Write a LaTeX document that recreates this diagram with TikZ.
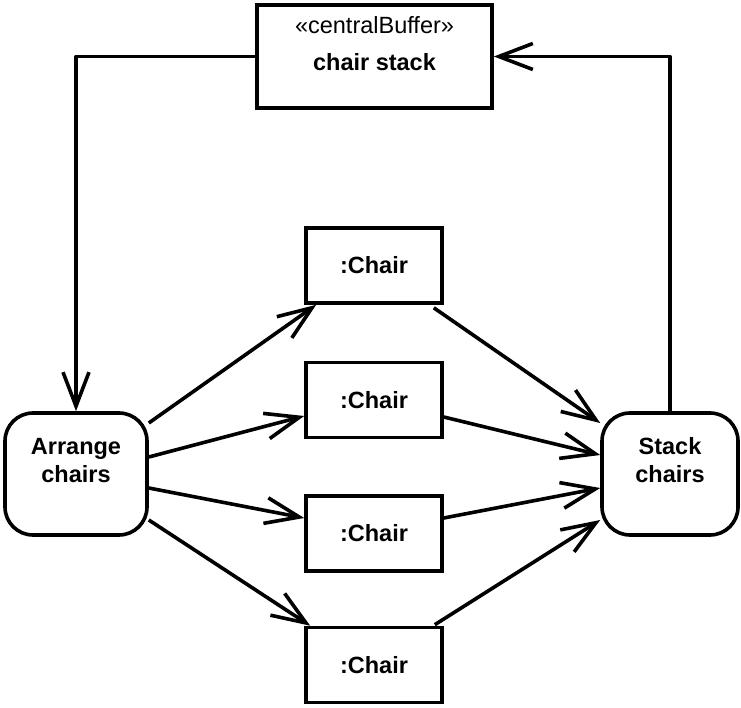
\documentclass[tikz,border=0pt]{standalone}
\usepackage{fontspec}
\setmainfont{Liberation Sans}
\usetikzlibrary{arrows.meta,calc}
\begin{document}
\begin{tikzpicture}[x=1pt,y=-1pt,
  box/.style={draw,line width=3.6pt,inner sep=0pt,fill=white},
  obj/.style={box,minimum width=136pt,minimum height=75pt,font=\fontsize{23.5}{28}\selectfont\bfseries},
  act/.style={box,rounded corners=28pt,minimum height=122pt},
  lbl/.style={font=\fontsize{23.5}{28}\selectfont\bfseries,align=center,inner sep=0pt},
  flow/.style={line width=3.6pt,-{Straight Barb[length=34pt,width=26pt]},line join=round}]
\useasboundingbox (0,0) rectangle (741,708);
% central buffer
\node[box,minimum width=235pt,minimum height=103pt] (cb) at (374.5,56.5) {};
\node[lbl,font=\fontsize{23.5}{28}\selectfont] (cbst) at (374.5,25) {«centralBuffer»};
\node[lbl] (cbname) at (374.5,62) {chair stack};
% actions
\node[act,minimum width=142pt] (arr) at (76,474) {};
\node[lbl] (arrt) at (76,461) {Arrange\\chairs};
\node[act,minimum width=136pt] (stk) at (670,474) {};
\node[lbl] (stkt) at (670,460) {Stack\\chairs};
% objects
\node[obj] (c1) at (374,265.5) {:Chair};
\node[obj] (c2) at (374,400) {:Chair};
\node[obj] (c3) at (374,533.5) {:Chair};
\node[obj] (c4) at (374,665) {:Chair};
% buffer flows
\draw[flow] (cb.west) -| (arr.north);
\draw[flow] (stk.north) |- (cb.east);
% arrange -> chairs
\draw[flow] ($(arr.east)+(0,-51)$) -- ($(c1.south west)+(12,0)$);
\draw[flow] ($(arr.east)+(0,-17)$) -- ($(c2.west)+(0,16)$);
\draw[flow] ($(arr.east)+(0,14)$) -- ($(c3.west)+(0,-15.5)$);
\draw[flow] ($(arr.east)+(0,46)$) -- ($(c4.north west)+(6,0)$);
% chairs -> stack
\draw[flow] ($(c1.south east)+(-10,3)$) -- ($(stk.west)+(0,-51)$);
\draw[flow] ($(c2.east)+(0,17)$) -- ($(stk.west)+(0,-19)$);
\draw[flow] ($(c3.east)+(0,-15.5)$) -- ($(stk.west)+(0,14)$);
\draw[flow] ($(c4.north east)+(-9,-1)$) -- ($(stk.west)+(0,46)$);
\end{tikzpicture}
\end{document}
